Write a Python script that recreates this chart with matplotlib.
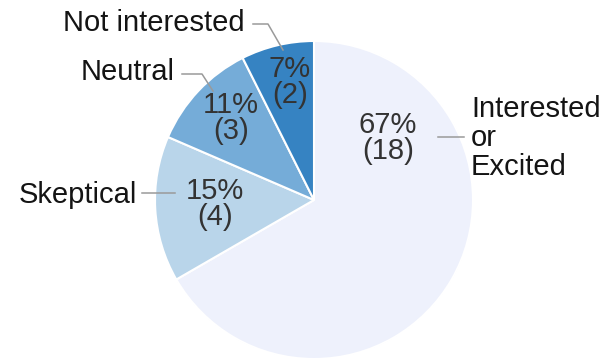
import matplotlib
matplotlib.use("Agg")
import matplotlib.pyplot as plt

# Survey responses
categories = ["Interested\nor\nExcited", "Skeptical", "Neutral", "Not interested"]
counts = [18, 4, 3, 2]
colors = ["#eef1fc", "#b9d5ea", "#75acd8", "#3683c2"]

W, H = 604, 361
fig = plt.figure(figsize=(W / 100, H / 100), dpi=100)
ax = fig.add_axes([0, 0, 1, 1])

def Y(y):
    # convert top-down pixel rows to axis coordinates
    return H - y

cx, cy, r = 314, 200, 159
ax.pie(counts, colors=colors, startangle=90, counterclock=False,
       center=(cx, Y(cy)), radius=r, frame=True,
       wedgeprops=dict(edgecolor="white", linewidth=1.5))
ax.set_xlim(0, W)
ax.set_ylim(0, H)
ax.set_aspect("equal")
ax.axis("off")

total = sum(counts)
font = "Liberation Sans"
fs = 21
pct_color = "#333333"
lab_color = "#141414"
line_color = "#9a9a9a"

# percentage labels inside slices
pct_pos = [(388, 138), (215, 204), (231, 118), (290, 82)]
for n, (px, py) in zip(counts, pct_pos):
    ax.text(px, Y(py), f"{round(100 * n / total)}%\n({n})", ha="center", va="center",
            fontsize=fs, family=font, color=pct_color, linespacing=0.95)

# outside category labels with leader lines
ax.text(471, Y(138), categories[0], ha="left", va="center", fontsize=fs,
        family=font, color=lab_color, linespacing=1.03)
ax.plot([438, 464], [Y(137), Y(137)], color=line_color, lw=1.1)

ax.text(137, Y(195), categories[1], ha="right", va="center", fontsize=fs,
        family=font, color=lab_color)
ax.plot([142, 175], [Y(193), Y(193)], color=line_color, lw=1.1)

ax.text(175, Y(72), categories[2], ha="right", va="center", fontsize=fs,
        family=font, color=lab_color)
ax.plot([182, 202, 213], [Y(74), Y(74), Y(91)], color=line_color, lw=1.1)

ax.text(245, Y(23), categories[3], ha="right", va="center", fontsize=fs,
        family=font, color=lab_color)
ax.plot([253, 268, 283], [Y(24), Y(24), Y(50)], color=line_color, lw=1.1)

fig.savefig("out.png", dpi=100, facecolor="white")
